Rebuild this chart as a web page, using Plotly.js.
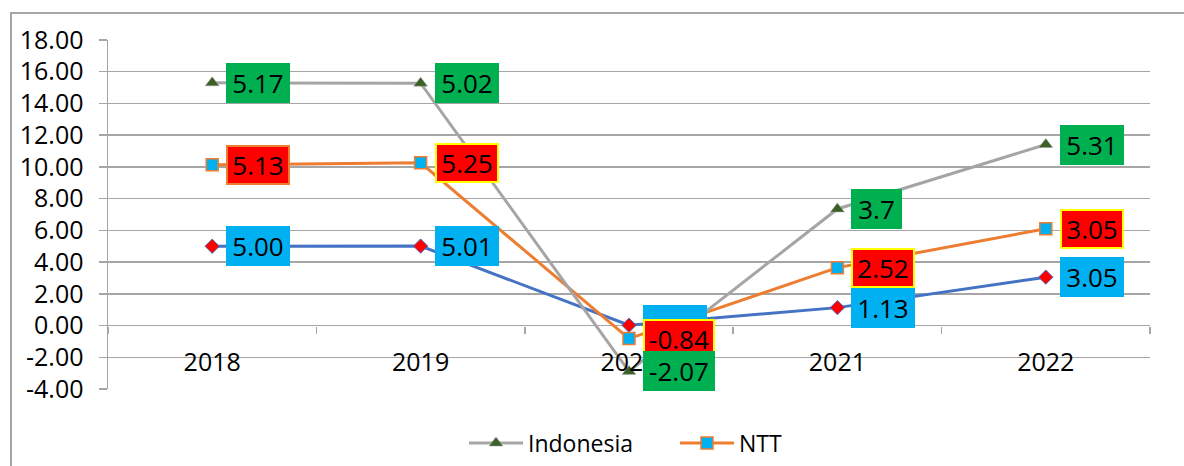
<!DOCTYPE html>
<html>
<head>
<meta charset="utf-8">
<script src="https://cdn.plot.ly/plotly-3.0.1.min.js"></script>
<style>html,body{margin:0;padding:0;background:#fff;}#chart{width:1184px;height:466px;}</style>
</head>
<body>
<div id="chart"></div>
<script>
const years = ['2018', '2019', '2020', '2021', '2022'];
const kabupaten = [5.00, 5.01, 0.02, 1.13, 3.05];
const ntt = [5.13, 5.25, -0.84, 2.52, 3.05];
const indonesia = [5.17, 5.02, -2.07, 3.7, 5.31];
const yTicks = [-4, -2, 0, 2, 4, 6, 8, 10, 12, 14, 16, 18];

const FONT = '"Open Sans", "Noto Sans", sans-serif';
const GRID = '#a6a6a6';

// stacked positions (stacked line chart)
const s1 = kabupaten.slice();
const s2 = kabupaten.map((v, i) => v + ntt[i]);
const s3 = s2.map((v, i) => v + indonesia[i]);

const traces = [
  {
    name: 'Kabupaten', x: years, y: s1, type: 'scatter', mode: 'lines+markers',
    showlegend: false,
    line: {color: '#4472c4', width: 3},
    marker: {symbol: 'diamond', size: 11, color: '#ff0000', line: {color: '#4472c4', width: 1}},
    hoverinfo: 'skip'
  },
  {
    name: 'NTT', x: years, y: s2, type: 'scatter', mode: 'lines+markers',
    line: {color: '#ed7d31', width: 3},
    marker: {symbol: 'square', size: 12, color: '#00b0f0', line: {color: '#ed7d31', width: 1.5}},
    hoverinfo: 'skip'
  },
  {
    name: 'Indonesia', x: years, y: s3, type: 'scatter', mode: 'lines+markers',
    line: {color: '#a5a5a5', width: 3},
    marker: {symbol: 'triangle-up', size: 12, color: '#3b6127', line: {color: '#a5a5a5', width: 0.5}},
    hoverinfo: 'skip'
  }
];

function textWidth(t) {
  let w = 0;
  for (const c of t) {
    if (c === '.') w += 7; else if (c === '-') w += 8; else w += 13;
  }
  return w + 18;
}

const annotations = [];
function addLabels(vals, ys, fmt, bg, borders, above) {
  vals.forEach((v, i) => {
    const t = fmt(v);
    const bc = borders ? borders[i] : null;
    const bw = bc ? 2 : 0;
    // a label partly covered by the next series' label keeps its text hidden behind it
    const covered = above && Math.abs(above[i] - ys[i]) < 1.5;
    annotations.push({
      xref: 'x', yref: 'y', x: i, y: ys[i], text: t, showarrow: false,
      xanchor: 'left', yanchor: 'middle', xshift: 14,
      width: textWidth(t) - 2 * bw, height: 40 - 2 * bw, borderpad: 0,
      valign: covered ? 'bottom' : 'middle',
      bgcolor: bg, bordercolor: bc || 'rgba(0,0,0,0)', borderwidth: bw,
      font: {family: FONT, size: 26, color: '#000000'}, align: 'center'
    });
  });
}
addLabels(kabupaten, s1, v => v.toFixed(2), '#00b0f0', null, s2);
addLabels(ntt, s2, v => v.toFixed(2), '#ff0000', ['#ed7d31', '#ffff00', '#ffff00', '#ffff00', '#ffff00'], null);
addLabels(indonesia, s3, v => String(v), '#00b050', null, null);

const layout = {
  width: 1184, height: 466,
  margin: {l: 108, r: 34, t: 40, b: 77, autoexpand: false},
  paper_bgcolor: '#ffffff', plot_bgcolor: '#ffffff',
  font: {family: FONT, color: '#000000'},
  showlegend: true,
  legend: {
    orientation: 'h', x: (464 - 108) / 1042, xanchor: 'left', y: -0.155, yanchor: 'middle',
    font: {family: FONT, size: 23, color: '#000000'}, traceorder: 'reversed',
    itemwidth: 54, entrywidth: 142, entrywidthmode: 'pixels', bgcolor: 'rgba(0,0,0,0)'
  },
  xaxis: {
    type: 'category', categoryorder: 'array', categoryarray: years,
    range: [-0.5, 4.5], autorange: false,
    anchor: 'free', position: 4 / 22,
    showgrid: false, zeroline: false, showline: false,
    ticks: 'outside', tickson: 'boundaries', ticklen: 7, tickcolor: GRID, tickwidth: 1.5,
    ticklabelstandoff: 19, tickangle: 0,
    tickfont: {family: FONT, size: 25, color: '#000000'},
    fixedrange: true
  },
  yaxis: {
    range: [-4, 18], autorange: false, tickvals: yTicks, ticktext: yTicks.map(v => v.toFixed(2)),
    showgrid: true, gridcolor: GRID, gridwidth: 1.5, zeroline: false,
    showline: true, linecolor: GRID, linewidth: 1.5,
    ticks: 'outside', ticklen: 8, tickcolor: GRID, tickwidth: 1.5,
    ticklabelstandoff: 10,
    tickfont: {family: FONT, size: 25, color: '#000000'},
    fixedrange: true
  },
  annotations: annotations,
  shapes: [
    {type: 'rect', xref: 'paper', yref: 'paper', x0: -97 / 1042, x1: 1.05, y0: -0.25, y1: (389 - 13) / 349,
     line: {color: GRID, width: 2}, fillcolor: 'rgba(0,0,0,0)', layer: 'below'}
  ]
};

Plotly.newPlot('chart', traces, layout, {displayModeBar: false, staticPlot: true});
</script>
</body>
</html>
